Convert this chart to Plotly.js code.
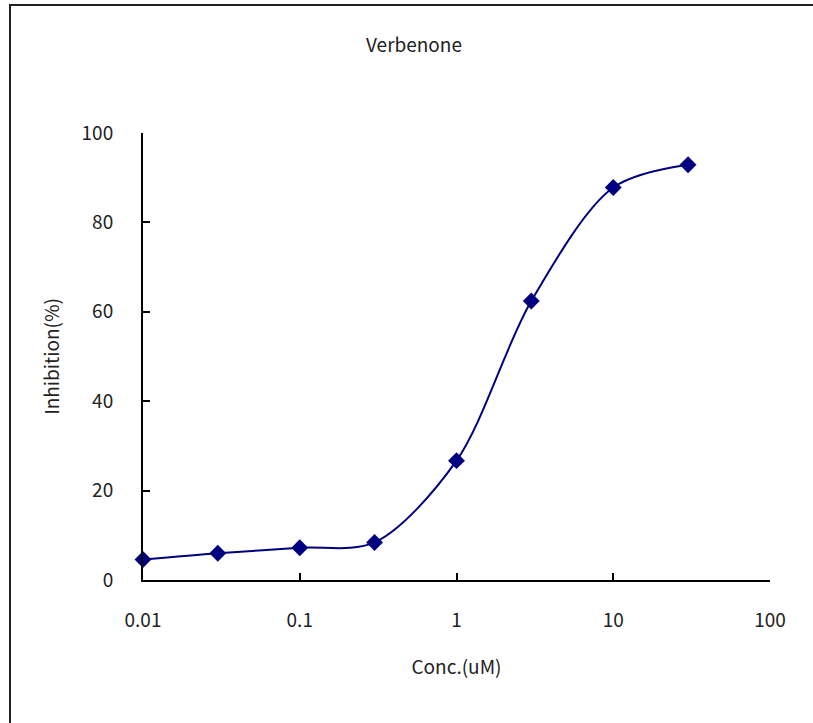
<!DOCTYPE html>
<html>
<head>
<meta charset="utf-8">
<script src="https://cdn.plot.ly/plotly-3.0.1.min.js"></script>
<style>
  html, body { margin: 0; padding: 0; background: #fff; }
  #wrap { position: relative; width: 813px; height: 723px; overflow: hidden; }
  #frame { position: absolute; left: 9px; top: 4px; width: 820px; height: 740px;
           border-top: 2px solid #222; border-left: 2px solid #222; pointer-events: none; }
  #chart { position: absolute; left: 0; top: 0; width: 813px; height: 723px; }
</style>
</head>
<body>
<div id="wrap">
  <div id="chart"></div>
  <div id="frame"></div>
</div>
<script>
const concentrations = [0.01, 0.03, 0.1, 0.3, 1, 3, 10, 30];
const inhibition = [4.6, 6.0, 7.2, 8.4, 26.7, 62.4, 87.8, 92.9];
const xTickVals = [0.01, 0.1, 1, 10, 100];
const xTickText = ['0.01', '0.1', '1', '10', '100'];
const yTickVals = [0, 20, 40, 60, 80, 100];

const FONT = '"Noto Sans CJK KR", "Noto Sans", sans-serif';
const FS = 19;

const trace = {
  x: concentrations,
  y: inhibition,
  type: 'scatter',
  mode: 'lines+markers',
  line: { color: '#000080', width: 2, shape: 'spline', smoothing: 0.9 },
  marker: { symbol: 'diamond', size: 13, color: '#000080' },
  cliponaxis: false,
  hoverinfo: 'x+y'
};

const layout = {
  width: 813,
  height: 723,
  margin: { l: 143, r: 43, t: 133, b: 143 },
  paper_bgcolor: 'rgba(0,0,0,0)',
  plot_bgcolor: 'rgba(0,0,0,0)',
  showlegend: false,
  font: { family: FONT, color: '#222', size: FS },
  title: {
    text: 'Verbenone',
    x: 414 / 813, xref: 'container', xanchor: 'center',
    y: 1 - 45 / 723, yref: 'container', yanchor: 'middle',
    font: { family: FONT, size: FS, color: '#222' }
  },
  xaxis: {
    type: 'log',
    range: [-2, 2],
    tickvals: xTickVals,
    ticktext: xTickText,
    ticks: 'inside',
    ticklen: 7,
    tickwidth: 2,
    tickcolor: '#000',
    showline: true,
    linecolor: '#000',
    linewidth: 2,
    showgrid: false,
    zeroline: false,
    ticklabelstandoff: 22,
    tickfont: { family: FONT, size: FS, color: '#222' },
    title: { text: 'Conc.(uM)', standoff: 30, font: { family: FONT, size: FS, color: '#222' } }
  },
  yaxis: {
    range: [0, 100],
    tickvals: yTickVals,
    ticks: 'inside',
    ticklen: 7,
    tickwidth: 2,
    tickcolor: '#000',
    showline: true,
    linecolor: '#000',
    linewidth: 2,
    showgrid: false,
    zeroline: false,
    ticklabelstandoff: 24,
    tickfont: { family: FONT, size: FS, color: '#222' },
    title: { text: 'Inhibition(%)', standoff: 17, font: { family: FONT, size: FS, color: '#222' } }
  }
};

Plotly.newPlot('chart', [trace], layout, { displayModeBar: false, staticPlot: true });
</script>
</body>
</html>
